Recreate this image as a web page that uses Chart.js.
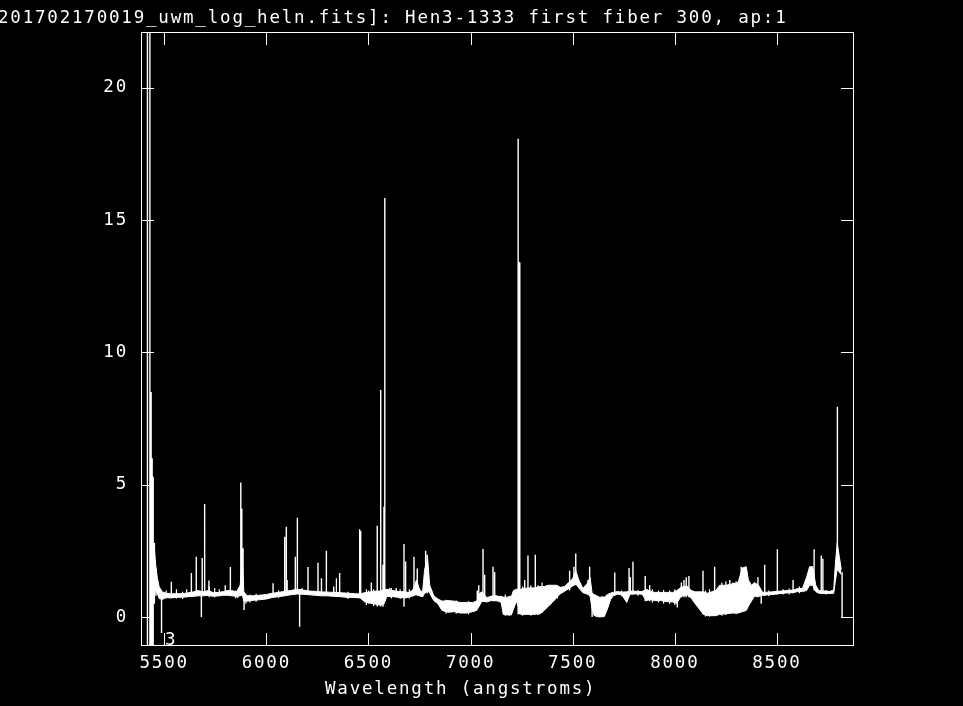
<!DOCTYPE html>
<html>
<head>
<meta charset="utf-8">
<title>Hen3-1333 spectrum</title>
<script src="https://cdn.jsdelivr.net/npm/chart.js"></script>
<style>
  html, body { margin: 0; padding: 0; background: #000; }
  #wrap { width: 963px; height: 706px; }
</style>
</head>
<body>
<div id="wrap"><canvas id="spectrum" width="963" height="706"></canvas></div>
<script>
const plotTitle = '201702170019_uwm_log_heln.fits]: Hen3-1333 first fiber 300, ap:1'
const xLabel = 'Wavelength (angstroms)'
const markerLabel = '3'

const xTicks = [5500, 6000, 6500, 7000, 7500, 8000, 8500]
const yTicks = [0, 5, 10, 15, 20]

// continuum: wavelength with the lower / upper edge of the noisy trace
const contWave = [
  5450, 5458, 5466, 5475, 5490, 5510, 5530, 5560, 5590, 5620, 5645, 5665, 5690, 5715, 5740,
  5765, 5790, 5810, 5830, 5855, 5872, 5882, 5890, 5905, 5935, 5965, 6000, 6030, 6060, 6090,
  6120, 6150, 6180, 6210, 6240, 6270, 6300, 6330, 6360, 6400, 6430, 6460, 6480, 6510, 6535,
  6555, 6575, 6590, 6620, 6650, 6680, 6700, 6720, 6735, 6750, 6765, 6775, 6790, 6800, 6820,
  6840, 6860, 6890, 6920, 6950, 6980, 7010, 7030, 7045, 7055, 7080, 7100, 7120, 7135, 7150,
  7160, 7180, 7200, 7210, 7225, 7245, 7280, 7310, 7340, 7360, 7380, 7400, 7420, 7440, 7460,
  7480, 7500, 7515, 7530, 7550, 7570, 7585, 7595, 7605, 7630, 7655, 7670, 7685, 7700, 7720,
  7740, 7765, 7780, 7800, 7820, 7840, 7860, 7880, 7900, 7930, 7960, 7990, 8010, 8030, 8060,
  8080, 8100, 8120, 8140, 8160, 8180, 8200, 8220, 8250, 8280, 8310, 8330, 8350, 8360, 8375,
  8390, 8410, 8430, 8460, 8490, 8520, 8550, 8580, 8600, 8625, 8645, 8660, 8675, 8690, 8705,
  8735, 8760, 8778, 8785, 8795, 8805, 8815
]
const contLow = [
  0.9, 1.0, 0.9, 0.7, 0.66, 0.74, 0.72, 0.74, 0.75, 0.77, 0.78, 0.8, 0.8, 0.82, 0.78,
  0.8, 0.82, 0.82, 0.8, 0.78, 0.8, 0.85, 0.6, 0.6, 0.63, 0.65, 0.68, 0.74, 0.77, 0.8,
  0.84, 0.87, 0.86, 0.84, 0.82, 0.8, 0.8, 0.78, 0.77, 0.74, 0.74, 0.72, 0.58, 0.52, 0.48,
  0.45, 0.48, 0.78, 0.77, 0.74, 0.72, 0.76, 0.8, 0.85, 0.8, 0.76, 0.9, 1.0, 0.9, 0.62,
  0.5, 0.25, 0.18, 0.2, 0.15, 0.15, 0.2, 0.25, 0.45, 0.6, 0.57, 0.62, 0.62, 0.6, 0.55,
  0.1, 0.08, 0.08, 0.3, 0.6, 0.1, 0.1, 0.1, 0.12, 0.25, 0.4, 0.55, 0.72, 0.88, 0.97,
  1.07, 1.17, 1.25, 1.1, 0.92, 0.87, 0.8, 0.3, 0.05, 0.0, 0.02, 0.3, 0.65, 0.82, 0.86,
  0.84, 0.55, 0.86, 0.87, 0.87, 0.86, 0.62, 0.66, 0.62, 0.62, 0.58, 0.57, 0.52, 0.78, 0.84,
  0.72, 0.5, 0.3, 0.1, 0.05, 0.05, 0.05, 0.1, 0.12, 0.15, 0.15, 0.2, 0.25, 0.4, 0.6,
  0.78, 0.78, 0.82, 0.84, 0.86, 0.89, 0.91, 0.92, 0.96, 0.96, 1.0, 1.2, 1.2, 0.96, 0.9,
  0.89, 0.89, 0.9, 1.3, 1.8, 1.7, 1.6
]
const contHigh = [
  2.8, 2.0, 1.5, 1.15, 0.95, 0.9, 0.88, 0.88, 0.88, 0.92, 0.95, 1.0, 0.95, 1.0, 0.92,
  0.93, 0.96, 1.0, 1.0, 0.95, 1.2, 2.2, 0.95, 0.8, 0.8, 0.82, 0.85, 0.9, 0.93, 0.97,
  1.0, 1.05, 1.02, 0.98, 0.97, 0.95, 0.94, 0.93, 0.92, 0.9, 0.88, 0.87, 0.92, 0.95, 0.98,
  0.98, 1.02, 1.05, 1.0, 0.96, 0.95, 0.92, 1.05, 1.4, 1.05, 0.93, 1.8, 2.2, 1.2, 0.8,
  0.68, 0.6, 0.62, 0.6, 0.55, 0.55, 0.55, 0.6, 0.9, 0.95, 0.73, 0.78, 0.82, 0.78, 0.78,
  0.75, 0.75, 0.78, 1.0, 1.05, 1.05, 1.1, 1.1, 1.15, 1.15, 1.2, 1.2, 1.2, 1.12, 1.15,
  1.3, 1.45, 1.75, 1.4, 1.08, 1.25, 1.5, 0.9, 0.85, 0.75, 0.75, 0.85, 0.9, 0.94, 0.96,
  0.94, 0.95, 0.98, 0.98, 0.96, 0.96, 1.05, 0.98, 0.93, 0.93, 0.93, 0.93, 1.0, 1.12, 1.18,
  1.0, 0.95, 0.95, 0.95, 0.9, 0.95, 1.0, 1.2, 1.2, 1.25, 1.3, 1.85, 1.9, 1.4, 1.2,
  1.3, 1.2, 0.93, 0.94, 0.96, 0.98, 1.0, 1.02, 1.07, 1.08, 1.5, 1.9, 1.9, 1.2, 1.0,
  0.98, 0.97, 1.02, 1.9, 2.8, 2.3, 1.8
]

// emission lines and dips: wavelength, foot and tip of each stroke
const lineWave = [
  5418, 5430, 5436, 5441, 5446, 5452, 5460, 5487, 5535, 5633, 5657, 5682, 5686, 5698, 5719,
  5799, 5824, 5875, 5880, 5886, 5891, 6033, 6090, 6098, 6102, 6142, 6152, 6163, 6204, 6253,
  6270, 6294, 6330, 6359, 6457, 6462, 6514, 6543, 6560, 6571, 6576, 6580, 6604, 6636, 6674,
  6682, 6723, 6739, 6780, 6788, 7033, 7040, 7061, 7069, 7110, 7118, 7233, 7237, 7241, 7265,
  7281, 7317, 7425, 7485, 7506, 7515, 7575, 7583, 7595, 7706, 7776, 7782, 7795, 7855, 7877,
  8012, 8032, 8045, 8056, 8069, 8138, 8195, 8269, 8285, 8325, 8407, 8423, 8440, 8502, 8579,
  8682, 8717, 8725, 8796, 8819
]
const lineLow = [
  -3, -3, -3, -3, -1.2, 0.5, 0.8, -0.6, 0.8, 0.8, 0.8, 0.0, 0.9, 0.8, 0.9,
  0.85, 0.85, 0.8, 0.8, 0.8, 0.26, 0.75, 0.85, 0.85, 0.85, 0.9, 0.9, -0.37, 0.85, 0.85,
  0.85, 0.8, 0.8, 0.8, 0.75, 0.75, 0.6, 0.4, 0.4, 0.39, 0.6, 0.6, 0.8, 0.8, 0.39,
  0.8, 0.8, 0.8, 0.9, 0.9, 0.4, 0.4, 0.6, 0.6, 0.6, 0.6, 0.1, 0.1, 0.1, 0.1,
  0.1, 0.1, 0.7, 1.0, 1.2, 1.2, 0.85, 0.85, 0.0, 0.8, 0.85, 0.85, 0.85, 0.6, 0.6,
  0.36, 0.75, 0.75, 0.75, 0.75, 0.1, 0.05, 0.15, 0.15, 0.2, 0.75, 0.5, 0.8, 0.85, 0.9,
  1.0, 0.9, 0.9, 1.8, 0.0
]
const lineHigh = [
  40, 40, 8.5, 6.0, 5.3, 2.8, 1.8, 0.8, 1.33, 1.66, 2.28, 0.9, 2.23, 4.27, 1.38,
  1.2, 1.89, 5.08, 4.1, 2.6, 0.9, 1.28, 3.03, 3.41, 1.4, 2.28, 3.75, 0.9, 1.89, 2.05,
  1.46, 2.5, 1.15, 1.66, 3.32, 3.25, 1.3, 3.45, 8.58, 1.97, 4.17, 15.83, 1.1, 1.1, 2.76,
  2.1, 2.28, 1.83, 2.5, 2.35, 1.0, 1.2, 2.57, 1.6, 1.9, 1.7, 18.07, 13.42, 13.4, 1.4,
  2.32, 2.35, 1.2, 1.75, 1.9, 2.4, 1.4, 1.9, 0.9, 1.68, 1.85, 1.5, 2.09, 1.55, 1.2,
  0.9, 1.3, 1.4, 1.5, 1.55, 1.75, 1.9, 1.4, 1.3, 1.9, 1.5, 0.9, 1.97, 2.56, 1.4,
  2.56, 2.32, 2.2, 7.95, 1.7
]

// short pixel-to-pixel noise strokes along the continuum
const noiseWave = [
  5510, 5560, 5590, 5610, 5720, 5747, 5770, 5850, 5860, 5900, 5920, 5950, 6060, 6175, 6343,
  6400, 6490, 6500, 6525, 6612, 6655, 6700, 6880, 6930, 6990, 7170, 7190, 7255, 7295, 7330,
  7350, 7620, 7645, 7740, 7820, 7890, 7920, 7945, 7975, 8000, 8150, 8170, 8230, 8250, 8300,
  8460, 8530, 8560, 8610, 8740
]
const noiseLow = [
  0.7, 0.7, 0.68, 0.75, 0.75, 0.75, 0.78, 0.7, 0.72, 0.5, 0.55, 0.58, 0.72, 0.85, 0.78,
  0.68, 0.45, 0.5, 0.42, 0.7, 0.68, 0.7, 0.12, 0.12, 0.1, 0.05, 0.05, 0.05, 0.05, 0.08,
  0.15, 0.0, 0.0, 0.78, 0.8, 0.55, 0.55, 0.5, 0.5, 0.45, 0.02, 0.02, 0.05, 0.08, 0.1,
  0.78, 0.85, 0.85, 0.9, 0.85
]
const noiseHigh = [
  1.0, 1.05, 0.95, 1.05, 1.15, 1.1, 1.05, 1.0, 0.98, 0.85, 0.85, 0.88, 1.0, 1.1, 1.46,
  0.95, 1.05, 1.0, 1.05, 1.1, 1.05, 1.05, 0.65, 0.62, 0.6, 0.85, 0.8, 1.15, 1.2, 1.2,
  1.3, 0.8, 0.78, 1.0, 1.02, 1.05, 1.0, 1.02, 1.0, 1.05, 1.0, 1.05, 1.3, 1.35, 1.35,
  1.0, 1.05, 1.08, 1.15, 1.02
]

const FONT_FAMILY = '"DejaVu Sans Mono", monospace'
const FONT_SIZE = 17.5
const INK = '#ffffff'
const TICK_LEN = 12

function points(xs, ys) {
  return xs.map((x, i) => ({ x, y: ys[i] }))
}

// every stroke is a vertical segment, split from the next by a null point
function strokes(xs, lows, highs) {
  return xs.flatMap((w, i) => [
    { x: w, y: lows[i] },
    { x: w, y: highs[i] },
    { x: w, y: null }
  ])
}

const framePlugin = {
  id: 'frame',
  beforeDraw(chart) {
    chart.ctx.letterSpacing = '1.8px'
  },
  afterDatasetsDraw(chart) {
    const { ctx, chartArea: a, scales } = chart
    ctx.save()
    ctx.strokeStyle = INK
    ctx.lineWidth = 1
    ctx.strokeRect(a.left - 0.5, a.top - 0.5, a.right - a.left + 1, a.bottom - a.top + 1)

    ctx.beginPath()
    xTicks.forEach(v => {
      const px = Math.round(scales.x.getPixelForValue(v)) + 0.5
      ctx.moveTo(px, a.bottom); ctx.lineTo(px, a.bottom - TICK_LEN)
      ctx.moveTo(px, a.top); ctx.lineTo(px, a.top + TICK_LEN)
    })
    yTicks.forEach(v => {
      const py = Math.round(scales.y.getPixelForValue(v)) + 0.5
      ctx.moveTo(a.left, py); ctx.lineTo(a.left + TICK_LEN, py)
      ctx.moveTo(a.right, py); ctx.lineTo(a.right - TICK_LEN, py)
    })
    ctx.stroke()

    ctx.fillStyle = INK
    ctx.font = FONT_SIZE + 'px ' + FONT_FAMILY
    ctx.textBaseline = 'alphabetic'
    ctx.textAlign = 'left'
    ctx.fillText(plotTitle, -2, 22.5)
    ctx.fillText(xLabel, 325, 693.5)
    ctx.fillText(markerLabel, 165, 644.5)
    ctx.restore()
  }
}

const strokeStyle = {
  borderColor: INK,
  pointRadius: 0,
  spanGaps: false,
  fill: false
}

new Chart(document.getElementById('spectrum'), {
  type: 'line',
  data: {
    datasets: [
      {
        data: points(contWave, contLow),
        borderColor: INK,
        borderWidth: 1,
        pointRadius: 0,
        fill: false
      },
      {
        data: points(contWave, contHigh),
        borderColor: INK,
        backgroundColor: INK,
        borderWidth: 1,
        pointRadius: 0,
        fill: '-1'
      },
      { ...strokeStyle, data: strokes(noiseWave, noiseLow, noiseHigh), borderWidth: 1.2 },
      { ...strokeStyle, data: strokes(lineWave, lineLow, lineHigh), borderWidth: 1.4 }
    ]
  },
  plugins: [framePlugin],
  options: {
    responsive: false,
    animation: false,
    events: [],
    devicePixelRatio: 1,
    layout: { padding: { top: 33, right: 110, left: 0, bottom: 0 } },
    plugins: {
      legend: { display: false },
      title: { display: false },
      tooltip: { enabled: false }
    },
    scales: {
      x: {
        type: 'linear',
        min: 5391.3,
        max: 8872.4,
        afterFit: scale => { scale.height = 61 },
        afterBuildTicks: scale => { scale.ticks = xTicks.map(value => ({ value })) },
        grid: { display: false, drawTicks: false },
        border: { display: false },
        ticks: {
          color: INK,
          padding: 8,
          maxRotation: 0,
          font: { family: FONT_FAMILY, size: FONT_SIZE },
          callback: v => String(v)
        }
      },
      y: {
        type: 'linear',
        min: -1.058,
        max: 22.07,
        afterFit: scale => { scale.width = 142 },
        afterBuildTicks: scale => { scale.ticks = yTicks.map(value => ({ value })) },
        grid: { display: false, drawTicks: false },
        border: { display: false },
        ticks: {
          color: INK,
          padding: 14,
          font: { family: FONT_FAMILY, size: FONT_SIZE },
          callback: v => String(v)
        }
      }
    }
  }
})
</script>
</body>
</html>
